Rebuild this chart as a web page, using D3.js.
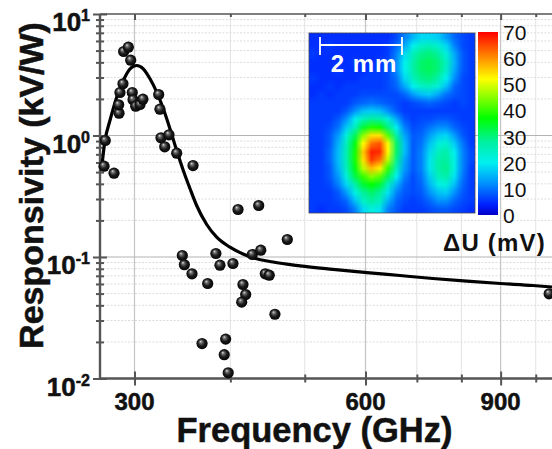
<!DOCTYPE html>
<html>
<head>
<meta charset="utf-8">
<script src="https://cdn.jsdelivr.net/npm/d3@7"></script>
<style>
    html, body { margin: 0; padding: 0; background: #fff; overflow: hidden; }
    svg { display: block; }
    text { font-family: "Liberation Sans", Arial, sans-serif; fill: #111; }
    .heavy { stroke: #111; stroke-width: 0.5px; }
</style>
</head>
<body>
<svg id="chart" width="552" height="449"></svg>
<script>
// measured points (GHz, kV/W)
const pointFreq = [273.8, 274.8, 282.1, 286.4, 286.1, 287.2, 289.8, 290.4, 294.5, 296.6, 298, 298.7, 301.1, 305, 307.7,
    322.6, 323.8, 324.8, 332.7, 328.5, 340.5, 357.6, 409.3, 435.5, 346.3, 348.4, 356.5, 373.7, 383, 387.7, 403.1,
    427.2, 438.2, 474.5, 444.2, 449.5, 415.4, 418.8, 413.8, 457.2, 367.4, 394.4, 392.7, 397.4, 1041];
const pointResp = [0.559, 0.91, 0.4895, 1.526, 1.789, 2.259, 2.664, 4.913, 5.33, 4.167, 2.259, 1.967, 1.742, 1.799, 1.99,
    2.175, 1.646, 0.957, 1.013, 0.807, 0.715, 0.566, 0.246, 0.2654, 0.1029, 0.0863, 0.0727, 0.0605, 0.1069, 0.0856, 0.0884,
    0.1049, 0.1138, 0.1393, 0.0727, 0.0708, 0.0594, 0.0491, 0.0425, 0.0338, 0.0194, 0.0211, 0.0157, 0.01114, 0.0498];

// fitted curve
const curveFreq = [271.9, 274.6, 278.7, 284.4, 290.1, 296, 302, 308, 314.3, 320.7, 327.1, 333.7, 340.5, 347.3, 354.3,
    361.5, 372.6, 383.9, 399.5, 424.2, 454.6, 492.8, 544.2, 602.6, 665.3, 734.4, 813.3, 899.5, 991.7, 1050];
const curveResp = [0.5485, 0.91, 1.329, 2.066, 2.836, 3.54, 3.768, 3.54, 2.929, 2.271, 1.658, 1.135, 0.752, 0.515, 0.3664,
    0.2654, 0.1851, 0.1455, 0.1204, 0.1004, 0.0909, 0.0846, 0.0792, 0.0745, 0.0704, 0.0665, 0.0632, 0.0605, 0.0583, 0.0566];

const xMajor = [300, 600, 900];
const xMinor = [400, 500, 700, 800, 1000];
const yMajor = [0.01, 0.1, 1, 10];
const yExponents = ['-2', '-1', '0', '1'];
const yMinor = [0.02, 0.03, 0.04, 0.05, 0.06, 0.07, 0.08, 0.09, 0.2, 0.3, 0.4, 0.5, 0.6, 0.7, 0.8, 0.9, 2, 3, 4, 5, 6, 7, 8, 9];

// inset signal map, mV
const mapValues = [
    [5, 5, 5, 5, 5, 5, 5, 5, 5, 5, 7, 11, 15, 18, 18, 17, 13, 9, 7, 6],
    [5, 5, 6, 5, 5, 5, 5, 5, 5, 6, 9, 14, 20, 24, 25, 23, 18, 11, 7, 6],
    [6, 5, 5, 5, 5, 5, 5, 5, 5, 6, 11, 18, 25, 29, 30, 28, 22, 14, 8, 6],
    [5, 5, 5, 5, 5, 6, 5, 5, 6, 7, 12, 20, 27, 31, 32, 30, 25, 15, 8, 6],
    [5, 5, 5, 6, 5, 5, 5, 6, 6, 7, 12, 20, 27, 31, 32, 30, 24, 14, 8, 6],
    [6, 5, 5, 5, 5, 5, 6, 6, 6, 7, 10, 18, 25, 29, 30, 27, 20, 12, 7, 6],
    [5, 5, 6, 5, 6, 6, 6, 6, 6, 7, 9, 14, 20, 24, 25, 22, 16, 9, 7, 6],
    [5, 6, 5, 6, 6, 6, 7, 7, 7, 7, 7, 9, 13, 16, 17, 14, 10, 8, 7, 6],
    [6, 6, 6, 6, 6, 8, 9, 10, 9, 8, 7, 6, 7, 8, 9, 8, 7, 6, 7, 6],
    [6, 6, 6, 6, 8, 12, 16, 17, 16, 12, 8, 6, 6, 6, 6, 6, 6, 6, 6, 6],
    [6, 6, 6, 8, 12, 20, 25, 28, 27, 22, 14, 8, 6, 7, 7, 8, 8, 7, 6, 6],
    [6, 6, 7, 10, 17, 25, 34, 39, 38, 30, 20, 11, 7, 8, 10, 12, 12, 9, 7, 6],
    [6, 6, 8, 13, 22, 32, 45, 54, 54, 42, 27, 14, 8, 9, 13, 17, 18, 13, 8, 6],
    [6, 6, 8, 15, 25, 36, 52, 62, 64, 52, 31, 16, 8, 10, 16, 22, 23, 17, 10, 6],
    [6, 6, 9, 16, 26, 38, 56, 68, 67, 52, 31, 16, 8, 11, 18, 25, 27, 20, 11, 7],
    [6, 6, 9, 16, 26, 38, 54, 66, 62, 48, 29, 14, 8, 11, 19, 27, 28, 21, 11, 7],
    [6, 6, 8, 15, 25, 36, 48, 57, 53, 40, 25, 13, 8, 11, 19, 27, 29, 21, 11, 6],
    [6, 6, 8, 13, 22, 33, 40, 45, 42, 32, 20, 11, 7, 10, 17, 25, 27, 19, 10, 6],
    [6, 6, 7, 11, 18, 27, 34, 37, 34, 25, 15, 9, 7, 9, 15, 21, 22, 16, 9, 6],
    [6, 6, 6, 8, 13, 21, 28, 31, 28, 19, 11, 8, 7, 8, 12, 16, 17, 12, 8, 6],
    [6, 6, 6, 7, 9, 16, 24, 28, 25, 15, 9, 7, 6, 7, 9, 12, 12, 9, 7, 6],
    [6, 5, 6, 6, 7, 11, 18, 22, 19, 11, 8, 6, 6, 6, 7, 8, 8, 7, 6, 5]
];
const colorStops = [0, 4, 12, 20, 28, 37, 52, 60, 70];
const colorValues = ['#0000c8', '#0020ff', '#0090ff', '#00f0f0', '#00f0a0', '#00ff00', '#ffff00', '#ff9000', '#ff0000'];
const colorTicks = [0, 10, 20, 30, 40, 50, 60, 70];

const svg = d3.select('#chart');
const axisColor = '#555';

const x = d3.scaleLog().domain([270.5, 1050]).range([100, 552]);
const y = d3.scaleLog().domain([0.01, 10]).range([378.5, 14]);

const defs = svg.append('defs');
const ball = defs.append('radialGradient').attr('id', 'ball')
    .attr('cx', '50%').attr('cy', '50%').attr('r', '55%').attr('fx', '36%').attr('fy', '30%');
ball.append('stop').attr('offset', '0%').attr('stop-color', '#e0e0e0');
ball.append('stop').attr('offset', '22%').attr('stop-color', '#707070');
ball.append('stop').attr('offset', '55%').attr('stop-color', '#1c1c1c');
ball.append('stop').attr('offset', '100%').attr('stop-color', '#000');

// grid
const grid = svg.append('g');
grid.selectAll('.vminor').data(xMinor).join('line')
    .attr('x1', d => x(d)).attr('x2', d => x(d)).attr('y1', 14).attr('y2', 378)
    .attr('stroke', '#e2e2e2').attr('stroke-width', 1);
grid.selectAll('.hminor').data(yMinor).join('line')
    .attr('x1', 100).attr('x2', 552).attr('y1', d => y(d)).attr('y2', d => y(d))
    .attr('stroke', '#dcdcdc').attr('stroke-width', 1).attr('stroke-dasharray', '2,1.5');
grid.selectAll('.vmajor').data(xMajor).join('line')
    .attr('x1', d => x(d)).attr('x2', d => x(d)).attr('y1', 14).attr('y2', 378)
    .attr('stroke', '#c4c4c4').attr('stroke-width', 1.2);
grid.selectAll('.hmajor').data(yMajor.slice(1, 3)).join('line')
    .attr('x1', 100).attr('x2', 552).attr('y1', d => y(d)).attr('y2', d => y(d))
    .attr('stroke', '#b4b4b4').attr('stroke-width', 1.2);

// axes
function styleAxis(g) {
    g.select('.domain').remove();
    g.selectAll('line').attr('stroke', axisColor).attr('stroke-width', 2);
    g.selectAll('text').remove();
}
svg.append('g').attr('transform', 'translate(0,378.5)')
    .call(d3.axisBottom(x).tickValues(xMajor).tickSize(7)).call(styleAxis)
    .selectAll('line').attr('y1', -7);
svg.append('g').attr('transform', 'translate(0,378.5)')
    .call(d3.axisBottom(x).tickValues(xMinor).tickSize(4)).call(styleAxis)
    .selectAll('line').attr('y1', -4);
svg.append('g').attr('transform', 'translate(0,14)')
    .call(d3.axisTop(x).tickValues(xMajor).tickSize(-6)).call(styleAxis);
svg.append('g').attr('transform', 'translate(0,14)')
    .call(d3.axisTop(x).tickValues(xMinor).tickSize(-3)).call(styleAxis);
svg.append('g').attr('transform', 'translate(100,0)')
    .call(d3.axisLeft(y).tickValues(yMajor).tickSize(7)).call(styleAxis)
    .selectAll('line').attr('x2', 7).attr('x1', -7);
svg.append('g').attr('transform', 'translate(100,0)')
    .call(d3.axisLeft(y).tickValues(yMinor).tickSize(4)).call(styleAxis)
    .selectAll('line').attr('x2', 4).attr('x1', -4);
svg.append('line').attr('x1', 100).attr('x2', 552).attr('y1', 378.5).attr('y2', 378.5)
    .attr('stroke', axisColor).attr('stroke-width', 2.4);
svg.append('line').attr('x1', 100).attr('x2', 552).attr('y1', 14).attr('y2', 14)
    .attr('stroke', axisColor).attr('stroke-width', 1.6);
svg.append('line').attr('x1', 100).attr('x2', 100).attr('y1', 14).attr('y2', 378.5)
    .attr('stroke', axisColor).attr('stroke-width', 2.4);

// tick labels
svg.selectAll('.xlabel').data(xMajor).join('text').attr('class', 'heavy')
    .attr('x', d => x(d)).attr('y', 410).attr('text-anchor', 'middle')
    .attr('font-size', 24).attr('font-weight', 'bold').text(d => d);
const yLabels = svg.selectAll('.ylabel').data(yMajor).join('text').attr('class', 'heavy')
    .attr('x', 90).attr('y', d => y(d) + 17).attr('text-anchor', 'end')
    .attr('font-weight', 'bold').attr('font-size', 26);
yLabels.append('tspan').text('10');
yLabels.append('tspan').attr('font-size', 16).attr('dy', -10).text((d, i) => yExponents[i]);

// titles
svg.append('text').attr('class', 'heavy').attr('x', 314.5).attr('y', 442).attr('text-anchor', 'middle')
    .attr('font-size', 34.5).attr('font-weight', 'bold').text('Frequency (GHz)');
svg.append('text').attr('class', 'heavy').attr('transform', 'translate(43,185.5) rotate(-90)').attr('text-anchor', 'middle')
    .attr('font-size', 34).attr('font-weight', 'bold').text('Responsivity (kV/W)');

// curve
const line = d3.line().x((d, i) => x(curveFreq[i])).y((d, i) => y(curveResp[i])).curve(d3.curveMonotoneX);
svg.append('path').attr('d', line(curveFreq)).attr('fill', 'none').attr('stroke', '#000').attr('stroke-width', 3.2);

// inset map, small canvas scaled up by the image element
const color = d3.scaleLinear().domain(colorStops).range(colorValues).clamp(true);
const rows = mapValues.length, cols = mapValues[0].length;
const canvas = document.createElement('canvas');
canvas.width = cols; canvas.height = rows;
const ctx = canvas.getContext('2d');
mapValues.forEach((row, j) => row.forEach((v, i) => {
    ctx.fillStyle = color(v);
    ctx.fillRect(i, j, 1, 1);
}));
svg.append('image').attr('x', 309).attr('y', 33).attr('width', 166).attr('height', 180)
    .attr('preserveAspectRatio', 'none').attr('href', canvas.toDataURL());
svg.append('rect').attr('x', 309).attr('y', 33).attr('width', 166).attr('height', 180)
    .attr('fill', 'none').attr('stroke', '#445').attr('stroke-width', 0.8);

// scale bar
const bar = svg.append('g').attr('stroke', '#fff').attr('stroke-width', 1.8);
bar.append('line').attr('x1', 320).attr('x2', 402).attr('y1', 45).attr('y2', 45);
bar.append('line').attr('x1', 320).attr('x2', 320).attr('y1', 37).attr('y2', 55);
bar.append('line').attr('x1', 402).attr('x2', 402).attr('y1', 37).attr('y2', 55);
svg.append('text').attr('x', 364).attr('y', 72).attr('text-anchor', 'middle')
    .attr('font-size', 24).attr('font-weight', 'bold').attr('letter-spacing', 1).style('fill', '#fff').text('2 mm');

// colour bar
const cbar = d3.scaleLinear().domain([0, 70]).range([215.5, 32.5]);
const grad = defs.append('linearGradient').attr('id', 'cbar').attr('x1', 0).attr('x2', 0).attr('y1', 1).attr('y2', 0);
colorStops.forEach((s, i) => grad.append('stop').attr('offset', s / 70).attr('stop-color', colorValues[i]));
svg.append('rect').attr('x', 478).attr('y', 32).attr('width', 20).attr('height', 183).attr('fill', 'url(#cbar)');
svg.selectAll('.clabel').data(colorTicks).join('text')
    .attr('x', 503).attr('y', d => cbar(d) + 7.5).attr('font-size', 21).text(d => d);
svg.append('text').attr('x', 443).attr('y', 251).attr('font-size', 24).attr('font-weight', 'bold')
    .attr('letter-spacing', 1.2).text('\u0394U (mV)');

// measured points
svg.selectAll('.pt').data(pointFreq).join('circle')
    .attr('cx', d => x(d)).attr('cy', (d, i) => y(pointResp[i])).attr('r', 5.6)
    .attr('fill', 'url(#ball)');
</script>
</body>
</html>
